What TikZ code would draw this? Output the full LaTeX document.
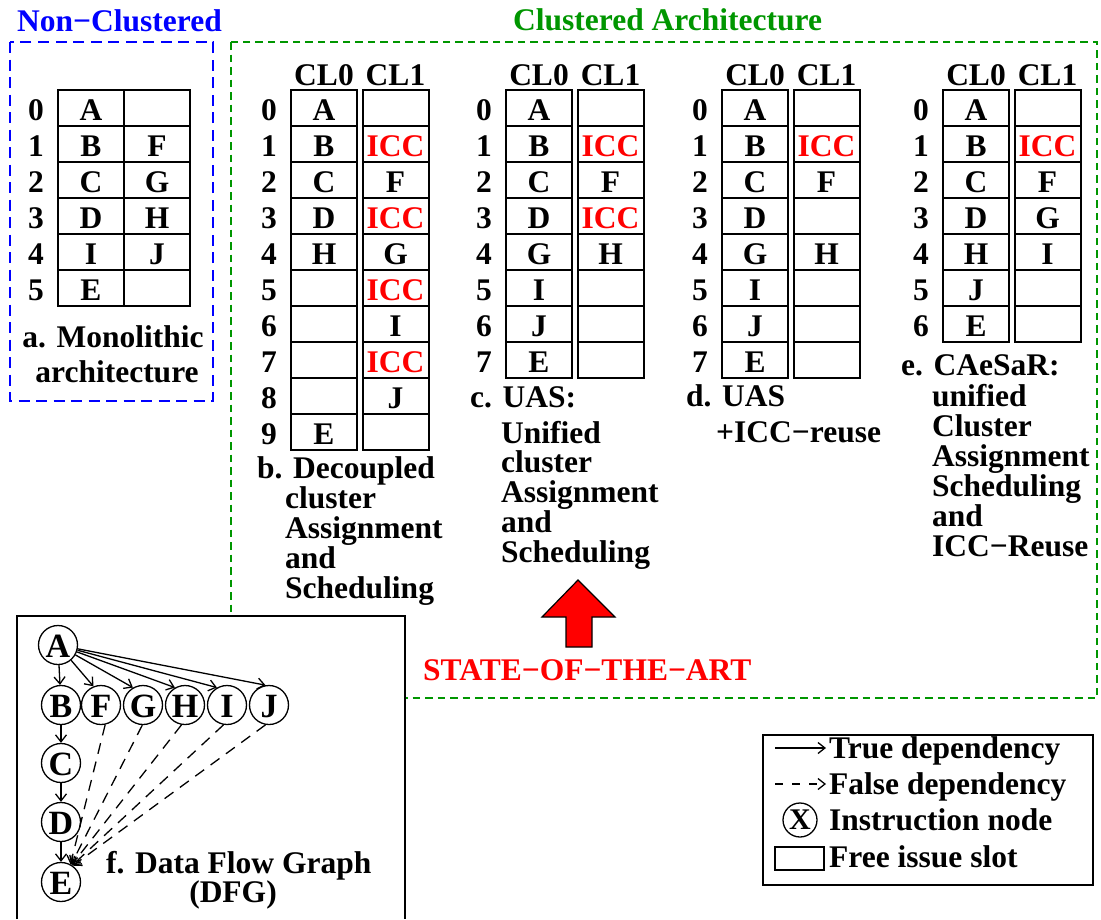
\documentclass[tikz,border=0pt]{standalone}
\usepackage{fontspec}
\setmainfont{Liberation Serif}[BoldFont={Liberation Serif Bold}]
\usetikzlibrary{arrows.meta}
\definecolor{figgreen}{RGB}{0,150,0}
\definecolor{figblue}{RGB}{0,0,255}
\definecolor{figred}{RGB}{255,0,0}
\newcommand\ICCred{\textcolor{figred}{ICC}}
\newcommand\cltab[3]{%
  \node[hdr] (#1h0) at (#2+33,85) {CL0};
  \node[hdr] (#1h1) at (#2+104.5,85) {CL1};
  \foreach \p/\q [count=\i from 0] in {#3} {
    \node[rown] (#1n\i) at (#2-22,108+36*\i) {\i};
    \node[cell] (#1a\i) at (#2+33,108+36*\i) {\p};
    \node[cell] (#1b\i) at (#2+104.5,108+36*\i) {\q};
  }%
}
\begin{document}
\begin{tikzpicture}[x=1pt,y=-1pt,
  every node/.style={font=\fontsize{31.5}{30}\selectfont\bfseries, inner sep=0pt},
  txt/.style={anchor=base west},
  hdr/.style={anchor=base},
  cell/.style={draw, line width=2pt, minimum width=66pt, minimum height=36pt, text height=24pt, text depth=0pt},
  rown/.style={text height=24pt, text depth=0pt},
  dnode/.style={circle, draw, line width=1.3pt, minimum size=39pt, text height=25pt, text depth=0pt, font=\fontsize{34}{30}\selectfont\bfseries},
  dep/.style={line width=1.3pt, -{Straight Barb[length=7pt,width=11pt]}},
  fdep/.style={dep, dash pattern=on 11pt off 8pt},
  ldep/.style={dep, dash pattern=on 7.5pt off 9.5pt},
]
\useasboundingbox (0,0) rectangle (1101,919);
\fill[white] (0,0) rectangle (1101,919);

% region boxes
\draw[figblue, line width=1.5pt, dash pattern=on 11pt off 6.5pt] (10,42) rectangle (213,401);
\draw[figgreen, line width=1.5pt, dash pattern=on 7.5pt off 5pt] (231,42) rectangle (1097,698);
\node[txt, text=figblue] (tnc) at (17,31) {Non−Clustered};
\node[txt, text=figgreen] (tca) at (513,30) {Clustered Architecture};

% a. monolithic
\foreach \p/\q [count=\i from 0] in {A/{},B/F,C/G,D/H,I/J,E/{}} {
  \node[rown] (mn\i) at (36,108+36*\i) {\i};
  \node[cell] (ma\i) at (91,108+36*\i) {\p};
  \node[cell] (mb\i) at (157,108+36*\i) {\q};
}
\node[hdr] (capa1) at (113,347) {a. Monolithic};
\node[hdr] (capa2) at (117,382) {architecture};

% b
\cltab{b}{291}{A/{},B/\ICCred,C/F,D/\ICCred,H/G,{}/\ICCred,{}/I,{}/\ICCred,{}/J,E/{}}
\node[txt] (capb1) at (257,478) {b. Decoupled};
\node[txt] (capb2) at (285,508) {cluster};
\node[txt] (capb3) at (285,538) {Assignment};
\node[txt] (capb4) at (285,568) {and};
\node[txt] (capb5) at (285,598) {Scheduling};

% c
\cltab{c}{506}{A/{},B/\ICCred,C/F,D/\ICCred,G/H,I/{},J/{},E/{}}
\node[txt] (capc1) at (470,407) {c. UAS:};
\node[txt] (capc2) at (501,443) {Unified};
\node[txt] (capc3) at (501,472) {cluster};
\node[txt] (capc4) at (501,502) {Assignment};
\node[txt] (capc5) at (501,532) {and};
\node[txt] (capc6) at (501,562) {Scheduling};

% d
\cltab{d}{722}{A/{},B/\ICCred,C/F,D/{},G/H,I/{},J/{},E/{}}
\node[txt] (capd1) at (686,406) {d. UAS};
\node[txt] (capd2) at (716,442) {+ICC−reuse};

% e
\cltab{e}{943}{A/{},B/\ICCred,C/F,D/G,H/I,J/{},E/{}}
\node[txt] (cape1) at (901,375) {e. CAeSaR:};
\node[txt] (cape2) at (932,406) {unified};
\node[txt] (cape3) at (932,436) {Cluster};
\node[txt] (cape4) at (932,466) {Assignment};
\node[txt] (cape5) at (932,496) {Scheduling};
\node[txt] (cape6) at (932,526) {and};
\node[txt] (cape7) at (932,556) {ICC−Reuse};

% state of the art arrow
\draw[fill=figred, line width=1.2pt, line join=miter] (578,580) -- (615,617) -- (592,617) -- (592,647) -- (566,647) -- (566,617) -- (542,617) -- cycle;
\node[txt, text=figred] (sota) at (423,680) {STATE−OF−THE−ART};

% f. DFG box
\fill[white] (17,616) rectangle (405,919);
\draw[line width=1.3pt] (17,919) -- (17,616) -- (405,616) -- (405,919);
\node[dnode] (A) at (58,645) {A};
\node[dnode] (B) at (61,705) {B};
\node[dnode] (F) at (101,705) {F};
\node[dnode] (G) at (143,705) {G};
\node[dnode] (H) at (185,705) {H};
\node[dnode] (I) at (227,705) {I};
\node[dnode] (J) at (269,705) {J};
\node[dnode] (C) at (61,763) {C};
\node[dnode] (D) at (61,822) {D};
\node[dnode] (E) at (61,882) {E};
\draw[dep] (A) -- (B);
\draw[dep] (A) -- (F.112);
\draw[dep] (A) -- (G.120);
\draw[dep] (A) -- (H.120);
\draw[dep] (A) -- (I.120);
\draw[dep] (A) -- (J.100);
\draw[dep] (B) -- (C);
\draw[dep] (C) -- (D);
\draw[dep] (D) -- (E);
\draw[fdep] (F.-78) -- (E.62);
\draw[fdep] (G.-92) -- (E.60);
\draw[fdep] (H.-100) -- (E.58);
\draw[fdep] (I.-100) -- (E.56);
\draw[fdep] (J.-100) -- (E.54);
\node[txt] (capf1) at (106,873) {f. Data Flow Graph};
\node[hdr] (capf2) at (233,902) {(DFG)};

% legend
\draw[line width=1.3pt] (763,735) rectangle (1093,885);
\coordinate (l1a) at (775,748);
\coordinate (l1b) at (826,748);
\draw[dep] (l1a) -- (l1b);
\node[txt] (lt1) at (829,758) {True dependency};
\coordinate (l2a) at (775,784);
\coordinate (l2b) at (826,784);
\draw[ldep] (l2a) -- (l2b);
\node[txt] (lt2) at (829,794) {False dependency};
\node[circle, draw, line width=1.3pt, minimum size=34pt, font=\fontsize{30}{30}\selectfont\bfseries] (lx) at (800,820) {X};
\node[txt] (lt3) at (829,830) {Instruction node};
\node[draw, line width=1.3pt, minimum width=49pt, minimum height=23pt] (lr) at (799.5,858.5) {};
\node[txt] (lt4) at (829,867) {Free issue slot};
\end{tikzpicture}
\end{document}
